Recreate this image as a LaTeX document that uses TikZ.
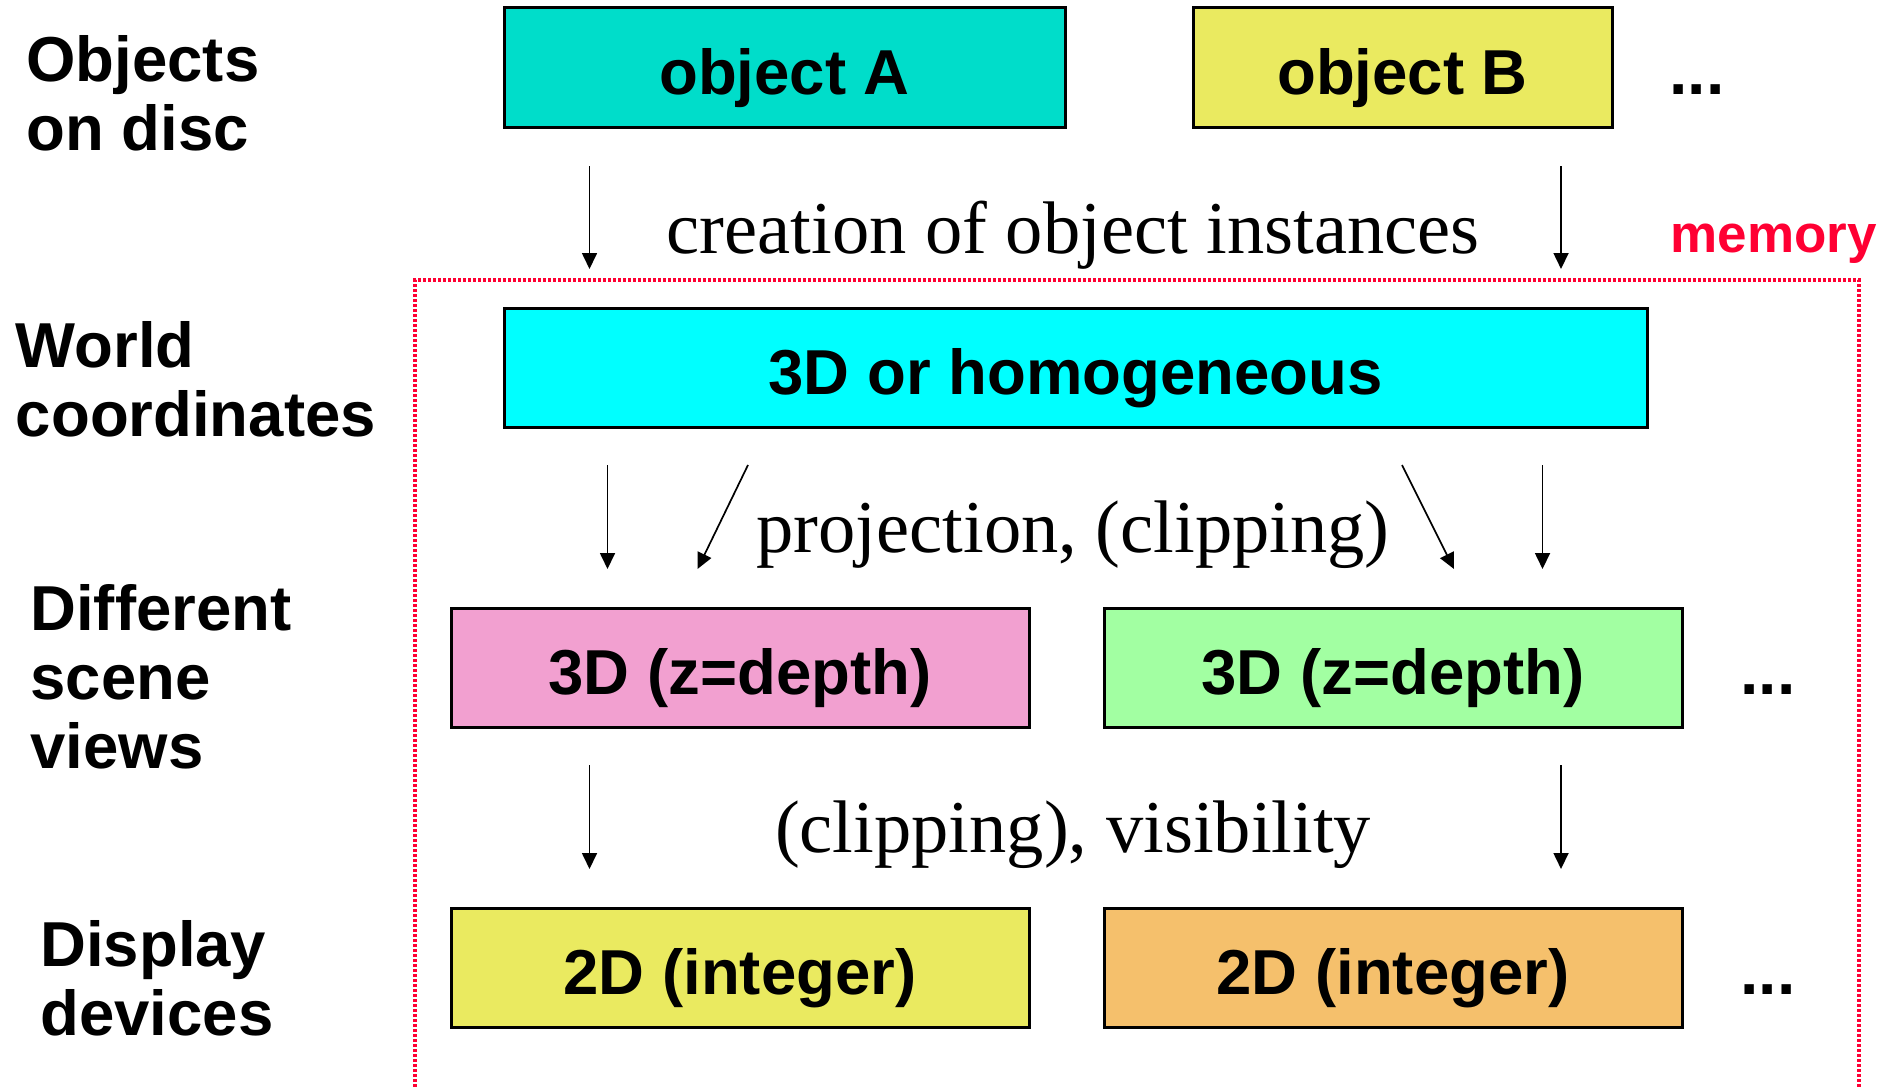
\documentclass[tikz,border=0pt]{standalone}
\usepackage{fontspec}
\setmainfont{Liberation Serif}
\setsansfont{Liberation Sans}
\usetikzlibrary{arrows.meta,calc}

\definecolor{turq}{RGB}{0,221,202}
\definecolor{lemon}{RGB}{234,234,96}
\definecolor{aqua}{RGB}{0,255,255}
\definecolor{rose}{RGB}{242,160,208}
\definecolor{mint}{RGB}{162,255,162}
\definecolor{apricot}{RGB}{245,192,108}
\definecolor{memred}{RGB}{255,0,51}

\begin{document}
\begin{tikzpicture}[x=0.5pt,y=-0.5pt,
  stage/.style={draw=black, line width=1.5pt, rectangle, inner sep=0pt, outer sep=0pt,
    minimum height=59.5pt, text height=30pt, text depth=3pt,
    font=\sffamily\bfseries\fontsize{31.75pt}{36pt}\selectfont},
  level/.style={anchor=base west, inner sep=0pt, align=left,
    font=\sffamily\bfseries\fontsize{31.75pt}{34.5pt}\selectfont},
  step label/.style={anchor=base, inner sep=0pt,
    font=\fontsize{37.25pt}{44pt}\selectfont},
  more/.style={anchor=base, inner sep=0pt,
    font=\sffamily\bfseries\fontsize{33pt}{36pt}\selectfont},
  arr/.style={line width=0.85pt, -{Triangle[length=8pt,width=7.5pt]}},
  memline/.style={draw=memred, line width=1.7pt, dash pattern=on 1.5pt off 1pt}
]
\useasboundingbox (0,0) rectangle (1898,1086);

% row labels on the left
\node[level] (lDisc)  at (26,81.7)   {\vtop{\hbox{Objects}\hbox{on disc}}};
\node[level] (lWorld) at (15.5,367)  {\vtop{\hbox{World}\hbox{coordinates}}};
\node[level] (lViews) at (30,630)    {\vtop{\hbox{Different}\hbox{scene}\hbox{views}}};
\node[level] (lDev)   at (40,966)    {\vtop{\hbox{Display}\hbox{devices}}};

% memory region
\coordinate (mBL) at (415,1092);
\coordinate (mTL) at (415,280);
\coordinate (mTR) at (1859,280);
\coordinate (mBR) at (1859,1092);
\draw[memline] (mBL) -- (mTL) -- (mTR) -- (mBR);
\node[anchor=base west, inner sep=0pt, text=memred,
  font=\sffamily\bfseries\fontsize{26.5pt}{30pt}\selectfont] (mem) at (1670,252) {memory};

% stages
\node[stage, fill=turq,    minimum width=280.5pt] (objA)  at (784.5,67.5)  {object A};
\node[stage, fill=lemon,   minimum width=209.5pt] (objB)  at (1402.5,67.5) {object B};
\node[stage, fill=aqua,    minimum width=571.5pt] (world) at (1075.5,367.5) {3D or homogeneous};
\node[stage, fill=rose,    minimum width=289pt]   (viewA) at (740,667.5)   {3D (z=depth)};
\node[stage, fill=mint,    minimum width=289pt]   (viewB) at (1393,667.5)  {3D (z=depth)};
\node[stage, fill=lemon,   minimum width=289pt]   (devA)  at (740,967.5)   {2D (integer)};
\node[stage, fill=apricot, minimum width=289pt]   (devB)  at (1393,967.5)  {2D (integer)};

% continuation marks
\node[more] (moreObj)  at (1697,94.5)  {...};
\node[more] (moreView) at (1768,694.5) {...};
\node[more] (moreDev)  at (1768,994.5) {...};

% step descriptions
\node[step label] (tCreate) at (1073,253) {creation of object instances};
\node[step label] (tProj)   at (1073,552) {projection, (clipping)};
\node[step label] (tVis)    at (1073,852) {(clipping), visibility};

% creation arrows
\draw[arr] ($(objA.south west)+(85.5,39)$) -- ($(world.north west)+(85.5,-39)$);
\draw[arr] ($(objB.south west)+(368,39)$)  -- ($(world.north)+(485.5,-39)$);

% projection arrows
\draw[arr] ($(world.south west)+(103.5,38)$) -- ($(viewA.north west)+(156.5,-39)$);
\draw[arr] ($(world.south west)+(244,38)$)   -- ($(viewA.north west)+(246.5,-39)$);
\draw[arr] ($(world.south east)+(-245,38)$)  -- ($(viewB.north west)+(350,-39)$);
\draw[arr] ($(world.south east)+(-104.5,38)$) -- ($(viewB.north west)+(438.5,-39)$);

% visibility arrows
\draw[arr] ($(viewA.south west)+(138.5,38)$) -- ($(devA.north west)+(138.5,-39)$);
\draw[arr] ($(viewB.south west)+(457,38)$)   -- ($(devB.north west)+(457,-39)$);
\end{tikzpicture}
\end{document}
